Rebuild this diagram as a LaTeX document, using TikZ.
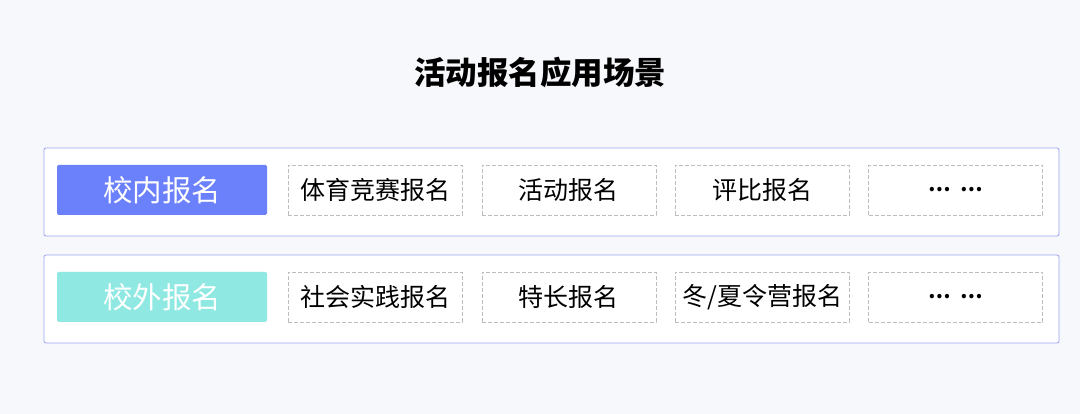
\documentclass[tikz,border=0pt]{standalone}
\usepackage{fontspec}
\setmainfont{Noto Sans CJK SC}
\usetikzlibrary{positioning}
\definecolor{bgcol}{HTML}{F7F8FC}
\definecolor{rowline}{HTML}{9BA3EC}
\definecolor{innercol}{HTML}{6B80FB}
\definecolor{outercol}{HTML}{8FE9E2}
\definecolor{dashcol}{HTML}{BDBDBD}

\begin{document}
\begin{tikzpicture}[x=1pt,y=1pt,
  rowbox/.style={draw=rowline, fill=white, rounded corners=2pt, line width=0.8pt},
  headbox/.style={minimum width=210pt, minimum height=50pt, inner sep=0pt, rounded corners=1.5pt, text=white, font=\fontsize{29.5}{32}\selectfont},
  itembox/.style={draw=dashcol, dash pattern=on 4pt off 2pt, minimum width=174pt, minimum height=50pt, inner sep=0pt, font=\fontsize{25}{28}\selectfont},
  node distance=19pt]
\fill[bgcol] (0,0) rectangle (1080,414);
\useasboundingbox (0,0) rectangle (1080,414);
\node[font=\bfseries\fontsize{31.5}{34}\selectfont] (title) at (540,342) {活动报名应用场景};
% row 1
\draw[rowbox] (44,266) rectangle (1059,178);
\node[headbox, fill=innercol] (inner) at (162,224) {校内报名};
\node[itembox, right=21pt of inner] (sport) {体育竞赛报名};
\node[itembox, right=of sport] (event) {活动报名};
\node[itembox, right=of event] (judge) {评比报名};
\node[itembox, right=of judge] (more1) {\bfseries\fontsize{20}{24}\selectfont …\hspace{10pt}…};
% row 2
\draw[rowbox] (44,159) rectangle (1059,71);
\node[headbox, fill=outercol] (outer) at (162,117) {校外报名};
\node[itembox, right=21pt of outer] (social) {社会实践报名};
\node[itembox, right=of social] (talent) {特长报名};
\node[itembox, right=of talent] (camp) {冬/夏令营报名};
\node[itembox, right=of camp] (more2) {\bfseries\fontsize{20}{24}\selectfont …\hspace{10pt}…};
\end{tikzpicture}
\end{document}
